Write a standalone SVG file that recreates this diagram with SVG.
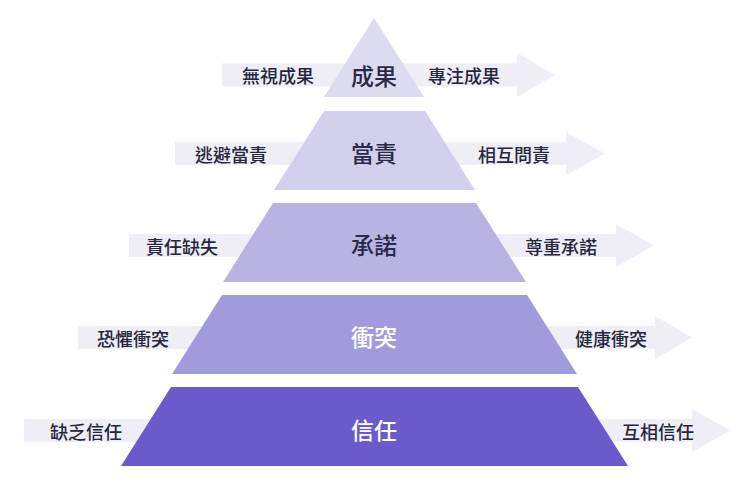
<svg xmlns="http://www.w3.org/2000/svg" width="740" height="494" viewBox="0 0 740 494">
<style>
.arrow{fill:#efeef6}
.lbl{font-family:"Noto Sans CJK TC","Noto Sans CJK SC",sans-serif;font-size:18px;font-weight:500;fill:#26263c;dominant-baseline:central}
.ttl{font-family:"Noto Sans CJK TC","Noto Sans CJK SC",sans-serif;font-size:23px;font-weight:500;text-anchor:middle;dominant-baseline:central}
.dark{fill:#2a2a48}
.light{fill:#ffffff}
</style>
<rect width="740" height="494" fill="#ffffff"/>
<g id="connectors">
<polygon class="arrow" points="222,63.5 517,63.5 517,53 555,75 517,97 517,86.5 222,86.5"/>
<polygon class="arrow" points="175,142 566,142 566,132 605,153.5 566,175 566,165 175,165"/>
<polygon class="arrow" points="129,234 616,234 616,224 654,245.5 616,267 616,257 129,257"/>
<polygon class="arrow" points="78,326 655,326 655,316 692,337.5 655,359 655,349 78,349"/>
<polygon class="arrow" points="24,419 692,419 692,409 730,430.5 692,452 692,442 24,442"/>
</g>
<g id="layer1">
<polygon points="374,18 424,97 324,97" fill="#dddbf0"/>
<text class="ttl dark" x="374" y="75">成果</text>
<text class="lbl" x="242" y="75">無視成果</text>
<text class="lbl" x="428" y="75">專注成果</text>
</g>
<g id="layer2">
<polygon points="324,111 425,111 475,190 274,190" fill="#d3d0ed"/>
<text class="ttl dark" x="374" y="152">當責</text>
<text class="lbl" x="195" y="153.5">逃避當責</text>
<text class="lbl" x="478" y="153.5">相互問責</text>
</g>
<g id="layer3">
<polygon points="273,203 476,203 526,282 223,282" fill="#b8b3e2"/>
<text class="ttl dark" x="374" y="244">承諾</text>
<text class="lbl" x="146" y="245.5">責任缺失</text>
<text class="lbl" x="525" y="245.5">尊重承諾</text>
</g>
<g id="layer4">
<polygon points="222,295 527,295 577,374 172,374" fill="#a29bdb"/>
<text class="ttl light" x="374" y="336">衝突</text>
<text class="lbl" x="97" y="337.5">恐懼衝突</text>
<text class="lbl" x="575" y="337.5">健康衝突</text>
</g>
<g id="layer5">
<polygon points="171,387 578,387 628,466 121,466" fill="#6a5aca"/>
<text class="ttl light" x="374" y="429">信任</text>
<text class="lbl" x="50" y="430.5">缺乏信任</text>
<text class="lbl" x="622" y="430.5">互相信任</text>
</g>
</svg>
